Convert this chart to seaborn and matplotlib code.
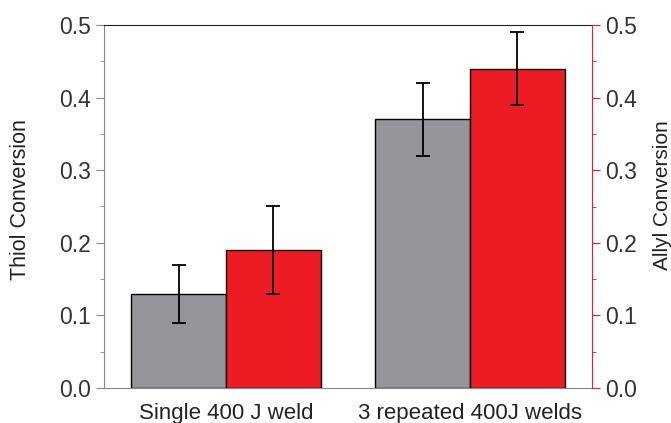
import matplotlib
matplotlib.use("Agg")
import matplotlib.pyplot as plt
import seaborn as sns
import pandas as pd
from matplotlib.ticker import MultipleLocator

groups = ["Single 400 J weld", "3 repeated 400J welds"]
series = ["Thiol", "Allyl"]
thiol = [0.13, 0.37]
allyl = [0.19, 0.44]
thiol_err = [0.04, 0.05]
allyl_err = [0.06, 0.05]

gray = "#939598"
red = "#ED1C24"

df = pd.DataFrame({
    "group": groups * 2,
    "series": ["Thiol"] * 2 + ["Allyl"] * 2,
    "value": thiol + allyl,
})

sns.set_style("white")
plt.rcParams["font.family"] = ["Liberation Sans", "DejaVu Sans"]

fig = plt.figure(figsize=(6.71, 4.23), dpi=100)
ax = fig.add_axes([104 / 671, 1 - 388 / 423, 488 / 671, 363 / 423])

sns.barplot(data=df, x="group", y="value", hue="series", hue_order=series,
            palette=[gray, red], saturation=1, width=0.775, edgecolor="black",
            linewidth=1, errorbar=None, legend=False, ax=ax)

# error bars at bar centres
errs = {"Thiol": thiol_err, "Allyl": allyl_err}
vals = {"Thiol": thiol, "Allyl": allyl}
for container, name in zip(ax.containers, series):
    xs = [p.get_x() + p.get_width() / 2 for p in container.patches]
    ax.errorbar(xs, vals[name], yerr=errs[name], fmt="none", ecolor="black",
                elinewidth=1.3, capsize=5, capthick=1.3, zorder=5)

ax.set_xlim(-0.5, 1.5)
ax.set_ylim(0, 0.5)
ax.yaxis.set_major_locator(MultipleLocator(0.1))
ax.yaxis.set_minor_locator(MultipleLocator(0.05))
ax.set_yticklabels([f"{v:.1f}" for v in ax.get_yticks()])
ax.set_xlabel("")
ax.set_ylabel("Thiol Conversion", fontsize=15.5, color="#222222")
ax.yaxis.set_label_coords(-0.149, 0.52)

for s in ["left", "bottom"]:
    ax.spines[s].set_color("#888888")
ax.spines["top"].set_color("#222222")
ax.spines["right"].set_visible(False)
ax.tick_params(axis="y", which="both", direction="out", color="#888888",
               labelsize=16.5, labelcolor="#333333", left=True)
ax.tick_params(axis="y", which="major", length=6)
ax.tick_params(axis="y", which="minor", length=3)
ax.tick_params(axis="x", length=0, labelsize=16, labelcolor="#222222", pad=11)

ax2 = ax.twinx()
ax2.set_ylim(0, 0.5)
ax2.yaxis.set_major_locator(MultipleLocator(0.1))
ax2.yaxis.set_minor_locator(MultipleLocator(0.05))
ax2.set_yticklabels([f"{v:.1f}" for v in ax2.get_yticks()])
for s in ["left", "top", "bottom"]:
    ax2.spines[s].set_visible(False)
ax2.spines["right"].set_color(red)
ax2.tick_params(axis="y", which="both", direction="out", color=red,
                labelsize=16.5, labelcolor="#333333", right=True)
ax2.tick_params(axis="y", which="major", length=6)
ax2.tick_params(axis="y", which="minor", length=3)
ax2.set_ylabel("Allyl Conversion", fontsize=15, color="#222222")
ax2.yaxis.set_label_coords(1.124, 0.53)

fig.savefig("out.png", dpi=100)
